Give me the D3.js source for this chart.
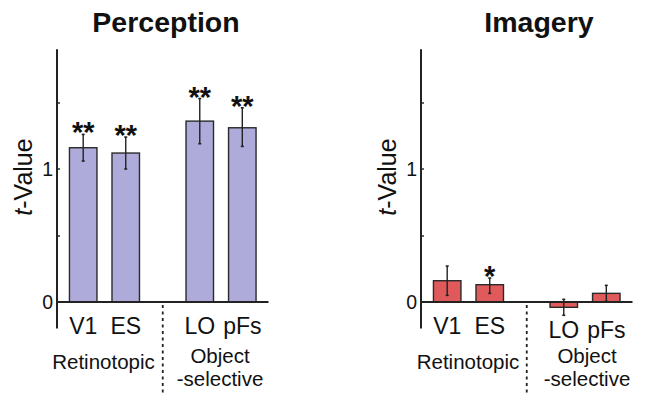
<!DOCTYPE html>
<html><head><meta charset="utf-8">
<script src="https://cdn.jsdelivr.net/npm/d3@7"></script>
<style>body{margin:0;background:#fff}svg{display:block}text{font-family:"Liberation Sans",Arial,sans-serif;fill:#111}</style>
</head><body>
<svg id="c" width="645" height="405"></svg>
<script>
const categories = ["V1","ES","LO","pFs"];
const groupOf = [0,0,1,1];
const groupLabels = [["Retinotopic"],["Object","-selective"]];
const panelTitles = ["Perception","Imagery"];
const perceptionValues = [1.16, 1.12, 1.36, 1.31];
const perceptionErrLow = [1.06, 1.00, 1.19, 1.17];
const perceptionErrHigh = [1.26, 1.24, 1.53, 1.46];
const perceptionSig = ["**","**","**","**"];
const imageryValues = [0.16, 0.13, -0.04, 0.065];
const imageryErrLow = [0.05, 0.065, -0.10, 0.005];
const imageryErrHigh = [0.27, 0.18, 0.02, 0.125];
const imagerySig = ["","*","",""];
const yTickLabels = [0, 1];
const yMinorTicks = [0.5, 1.5];
const yDomain = [-0.2, 1.9];

const svg = d3.select("#c");
const panels = [
  {title: panelTitles[0], v: perceptionValues, lo: perceptionErrLow, hi: perceptionErrHigh, sig: perceptionSig, ax: 57, color: "#aeaad9", tx: 166, objDy: 0},
  {title: panelTitles[1], v: imageryValues, lo: imageryErrLow, hi: imageryErrHigh, sig: imagerySig, ax: 421, color: "#e05a5b", tx: 539, objDy: 4}
];
const y = d3.scaleLinear().domain(yDomain).range([328.6, 49.3]);
const y0 = y(0);
const gapExtra = 0.74;
const bw = 27.5;

panels.forEach((p, pi) => {
  const g = svg.append("g");
  const slot = categories.map((c,i) => i + groupOf[i]*gapExtra);
  const x = d3.scaleLinear().domain([0, 3 + gapExtra]).range([p.ax + 26.2, p.ax + 185.3]);

  // title
  g.append("text").attr("x", p.tx).attr("y", 32).attr("text-anchor","middle")
    .style("font-size","28.5px").style("font-weight","bold").text(p.title);

  // y label
  const yl = g.append("text").attr("transform", `translate(${p.ax - 25},177) rotate(-90)`)
    .attr("text-anchor","middle").style("font-size","25px");
  yl.append("tspan").style("font-style","italic").text("t");
  yl.append("tspan").text("-Value");

  // bars
  categories.forEach((c, i) => {
    const cx = x(slot[i]);
    const v = p.v[i];
    g.append("rect").attr("x", cx - bw/2).attr("width", bw)
      .attr("y", Math.min(y(v), y0)).attr("height", Math.abs(y(v) - y0))
      .attr("fill", p.color).attr("stroke", "#2a2a2a").attr("stroke-width", 1.4);
    // error bar
    g.append("line").attr("x1", cx).attr("x2", cx).attr("y1", y(p.lo[i])).attr("y2", y(p.hi[i]))
      .attr("stroke","#222").attr("stroke-width",1.4);
    [p.lo[i], p.hi[i]].forEach(e => g.append("line").attr("x1", cx-1.5).attr("x2", cx+1.5)
      .attr("y1", y(e)).attr("y2", y(e)).attr("stroke","#222").attr("stroke-width",1.6));
    if (p.sig[i]) {
      g.append("text").attr("x", cx).attr("y", y(p.hi[i]) - 9 + 17).attr("text-anchor","middle")
        .style("font-size","29px").style("font-weight","bold").text(p.sig[i]);
    }
    // category label
    g.append("text").attr("x", cx).attr("y", 333.5 + (groupOf[i] === 1 ? p.objDy : 0))
      .attr("text-anchor","middle").style("font-size","23px").text(c);
  });

  // axes
  const yAxis = d3.axisRight(y).tickValues(yMinorTicks).tickSize(3).tickFormat("");
  const ya = g.append("g").attr("transform", `translate(${p.ax},0)`).call(yAxis);
  ya.select(".domain").remove();
  ya.selectAll("line").attr("stroke","#222").attr("stroke-width",1.4);
  g.append("line").attr("x1", p.ax).attr("x2", p.ax).attr("y1", y(yDomain[1])).attr("y2", y(yDomain[0]))
    .attr("stroke","#222").attr("stroke-width",2);
  g.append("line").attr("x1", p.ax).attr("x2", p.ax + 211.5).attr("y1", y0).attr("y2", y0)
    .attr("stroke","#222").attr("stroke-width",2);
  yTickLabels.forEach(t => {
    g.append("text").attr("x", p.ax - 4).attr("y", y(t) + 7).attr("text-anchor","end")
      .style("font-size","19.5px").text(t);
    if (t !== 0) g.append("line").attr("x1", p.ax).attr("x2", p.ax + 3).attr("y1", y(t)).attr("y2", y(t))
      .attr("stroke","#222").attr("stroke-width",1.4);
  });

  // group separator
  const sx = (x(slot[1]) + x(slot[2])) / 2;
  g.append("line").attr("x1", sx).attr("x2", sx).attr("y1", y0 + 3).attr("y2", 395)
    .attr("stroke","#222").attr("stroke-width",1.8).attr("stroke-dasharray","3,3.5");

  // group labels
  const c0 = (x(slot[0]) + x(slot[1])) / 2 - 0.5 + (pi === 0 ? -0.5 : 0);
  const c1 = (x(slot[2]) + x(slot[3])) / 2 + (pi === 0 ? -1 : 2);
  g.append("text").attr("x", c0).attr("y", 368.5).attr("text-anchor","middle")
    .style("font-size","20.5px").text(groupLabels[0][0]);
  g.append("text").attr("x", c1).attr("y", 363).attr("text-anchor","middle")
    .style("font-size","20.5px").text(groupLabels[1][0]);
  g.append("text").attr("x", c1).attr("y", 385.5).attr("text-anchor","middle")
    .style("font-size","20.5px").text(groupLabels[1][1]);
});
</script>
</body></html>
